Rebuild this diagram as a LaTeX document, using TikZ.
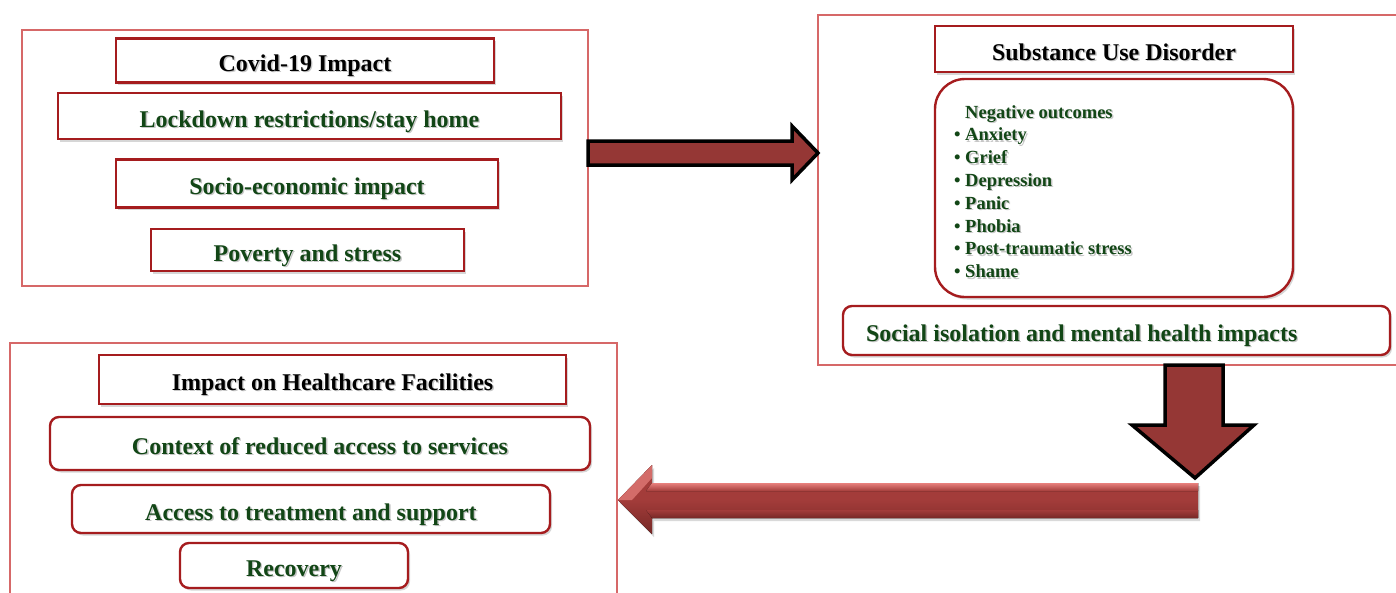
\documentclass[tikz,border=0pt]{standalone}
\usepackage{fontspec}
\setmainfont{Liberation Serif}
\usetikzlibrary{shadows}
\definecolor{boxred}{RGB}{165,28,30}
\definecolor{outred}{RGB}{214,104,104}
\definecolor{txtgreen}{RGB}{18,70,22}
\definecolor{arrred}{RGB}{149,55,53}
\definecolor{arrlight}{RGB}{232,128,125}
\definecolor{arrmid}{RGB}{163,60,58}
\definecolor{arrdark}{RGB}{118,40,38}
\newcommand\shd[1]{\rlap{\kern1.4pt\raisebox{-1.4pt}{\textcolor{black!22}{#1}}}#1}
\begin{document}
\begin{tikzpicture}[x=1pt,y=-1pt,
  outerbox/.style={draw=outred,line width=1.2pt,inner sep=0pt},
  ibox/.style={draw=boxred,line width=2.4pt,fill=white,
    drop shadow={shadow xshift=2pt,shadow yshift=-2.5pt,opacity=0.16,fill=black},
    inner sep=0pt,text height=22pt,text depth=0pt,
    font=\fontsize{24}{28}\selectfont\bfseries},
  rbox/.style={ibox,rounded corners=9pt},
  gtxt/.style={text=txtgreen},
  ktxt/.style={text=black},
  litem/.style={anchor=base west,inner sep=0pt,text=txtgreen,
    font=\fontsize{18.5}{22}\selectfont\bfseries},
  bul/.style={anchor=base west,inner sep=0pt,text=txtgreen,
    font=\fontsize{18.5}{22}\selectfont\bfseries},
  blockarrow/.style={draw=black,line width=3.5pt,fill=arrred,line join=miter,miter limit=10}
]
\useasboundingbox (0,0) rectangle (1396,592);

% outer containers
\node[outerbox,minimum width=566pt,minimum height=256pt] (covidgrp) at (305,158) {};
\node[outerbox,minimum width=602pt,minimum height=350pt] (sudgrp) at (1119,190) {};
\node[outerbox,minimum width=607pt,minimum height=277pt] (hcgrp) at (313.5,481.5) {};

% block arrows
\draw[blockarrow] (588,141) -- (792,141) -- (792,126) -- (818,153) -- (792,180) -- (792,165) -- (588,165) -- cycle;
\draw[blockarrow] (1165,365) -- (1223,365) -- (1223,425) -- (1254,425) -- (1195,478) -- (1132,425) -- (1165,425) -- cycle;
\fill[top color=arrmid,bottom color=arrdark,middle color=arrmid,
  drop shadow={shadow xshift=2pt,shadow yshift=-3pt,opacity=0.15,fill=black}]
  (1198,483) -- (652,483) -- (652,465) -- (618,500) -- (652,534) -- (652,518) -- (1198,518) -- cycle;
\fill[top color=arrlight,bottom color=arrmid] (1198,483) -- (652,483) -- (646,491) -- (1198,491) -- cycle;
\fill[top color=arrmid,bottom color=arrdark] (1198,510) -- (646,510) -- (652,518) -- (1198,518) -- cycle;
\fill[arrlight!70!arrmid] (652,465) -- (618,500) -- (632,500) -- (652,478) -- cycle;

% left group
\node[ibox,ktxt,minimum width=378pt,minimum height=44pt] (covid) at (305,60.5) {\shd{Covid-19 Impact}};
\node[ibox,gtxt,minimum width=503pt,minimum height=46pt] (lock) at (309.5,116) {\shd{Lockdown restrictions/stay home}};
\node[ibox,gtxt,minimum width=382pt,minimum height=48pt] (socio) at (307,183.5) {\shd{Socio-economic impact}};
\node[ibox,gtxt,minimum width=313pt,minimum height=42pt] (pov) at (307.5,250) {\shd{Poverty and stress}};

% right group
\node[ibox,ktxt,minimum width=358pt,minimum height=46pt] (sud) at (1114,49) {\shd{Substance Use Disorder}};
\node[ibox,rounded corners=30pt,minimum width=358pt,minimum height=218pt] (neg) at (1114,188) {};
\node[litem] (negt) at (965,118) {\shd{Negative outcomes}};
\foreach \t [count=\i] in {Anxiety,Grief,Depression,Panic,Phobia,Post-traumatic stress,Shame}{
  \node[bul] (bul\i) at (954,{118+22.8*\i}) {•};
  \node[litem] (item\i) at (965,{118+22.8*\i}) {\shd{\t}};
}
\node[rbox,gtxt,minimum width=547pt,minimum height=49pt] (social) at (1116.5,330.5) {\makebox[501pt][l]{\shd{Social isolation and mental health impacts}}};

% bottom-left group
\node[ibox,ktxt,minimum width=467pt,minimum height=49pt] (hc) at (332.5,379.5) {\shd{Impact on Healthcare Facilities}};
\node[rbox,gtxt,minimum width=540pt,minimum height=53pt] (ctx) at (320,443.5) {\shd{Context of reduced access to services}};
\node[rbox,gtxt,minimum width=478pt,minimum height=48pt] (acc) at (311,509) {\shd{Access to treatment and support}};
\node[rbox,gtxt,minimum width=228pt,minimum height=45pt] (rec) at (294,565.5) {\shd{Recovery}};
\end{tikzpicture}
\end{document}
